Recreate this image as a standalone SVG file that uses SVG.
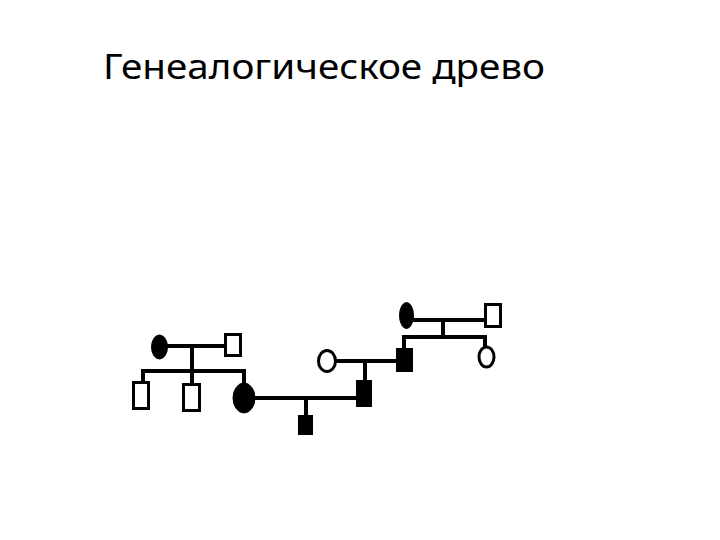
<svg xmlns="http://www.w3.org/2000/svg" width="720" height="540" viewBox="0 0 720 540">
<style>
.t{font-family:"Noto Sans","Open Sans","Liberation Sans",sans-serif;font-size:35px;fill:#000}
.ln{stroke:#000;stroke-width:4;fill:none;stroke-linecap:butt}
.open{fill:#fff;stroke:#000;stroke-width:3}
.fill{fill:#000;stroke:#000;stroke-width:1}
</style>
<rect width="720" height="540" fill="#fff"/>
<text class="t" x="103" y="79" textLength="442" lengthAdjust="spacingAndGlyphs">Генеалогическое древо</text>
<g id="connectors">
<line class="ln" x1="166" y1="346" x2="225" y2="346"/>
<line class="ln" x1="192" y1="346" x2="192" y2="371"/>
<line class="ln" x1="141" y1="371" x2="246" y2="371"/>
<line class="ln" x1="143" y1="369" x2="143" y2="382"/>
<line class="ln" x1="192" y1="369" x2="192" y2="384"/>
<line class="ln" x1="244" y1="369" x2="244" y2="384"/>
<line class="ln" x1="254" y1="398" x2="357" y2="398"/>
<line class="ln" x1="306" y1="398" x2="306" y2="416"/>
<line class="ln" x1="335" y1="361" x2="397" y2="361"/>
<line class="ln" x1="365" y1="361" x2="365" y2="381"/>
<line class="ln" x1="413" y1="320" x2="485" y2="320"/>
<line class="ln" x1="443" y1="320" x2="443" y2="337"/>
<line class="ln" x1="402" y1="337" x2="486" y2="337"/>
<line class="ln" x1="404" y1="335" x2="404" y2="349"/>
<line class="ln" x1="485" y1="335" x2="485" y2="347"/>
</g>
<g id="gf-mother"><ellipse class="fill" cx="159.5" cy="347" rx="8" ry="12"/></g>
<g id="gf-father"><rect class="open" x="225.5" y="334.5" width="15" height="21"/></g>
<g id="son1"><rect class="open" x="133.5" y="382.5" width="15" height="26"/></g>
<g id="son2"><rect class="open" x="183.5" y="384.5" width="16" height="26"/></g>
<g id="daughter"><ellipse class="fill" cx="244" cy="398" rx="11" ry="15"/></g>
<g id="grandson"><rect class="fill" x="298.5" y="415.5" width="14" height="19"/></g>
<g id="husband"><rect class="fill" x="356.5" y="380.5" width="15" height="26"/></g>
<g id="wife-mother"><ellipse class="open" cx="327" cy="361" rx="8.5" ry="10.5"/></g>
<g id="husband-father"><rect class="fill" x="396.5" y="348.5" width="16" height="23"/></g>
<g id="top-mother"><ellipse class="fill" cx="406.5" cy="315.5" rx="7" ry="13"/></g>
<g id="top-father"><rect class="open" x="485.5" y="304.5" width="15" height="22"/></g>
<g id="aunt"><ellipse class="open" cx="486.5" cy="357" rx="7.5" ry="10"/></g>
</svg>
